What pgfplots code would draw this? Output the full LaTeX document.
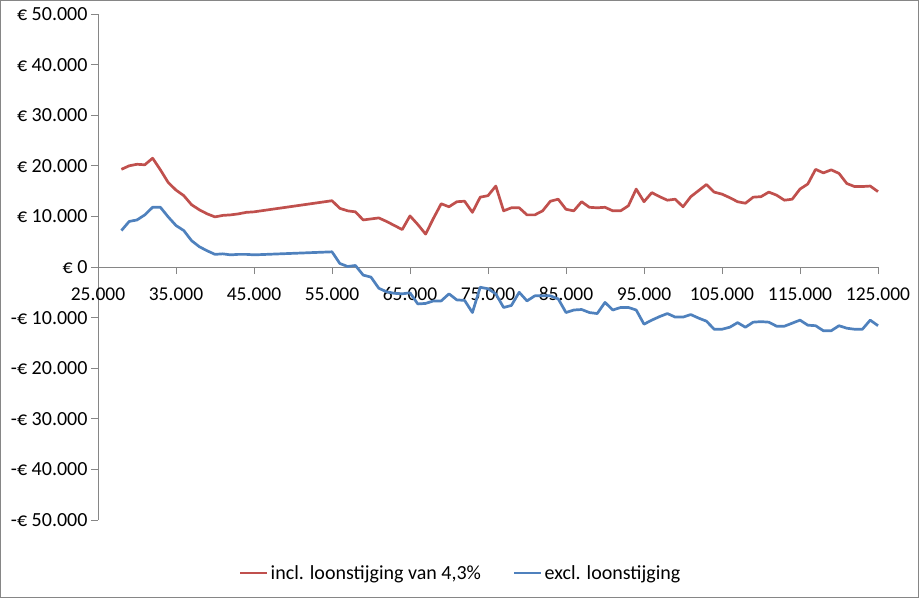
\documentclass[border=0pt]{standalone}
\usepackage{fontspec}
\setmainfont{Carlito}
\usepackage{pgfplots}
\pgfplotsset{compat=1.18}
\definecolor{exred}{HTML}{C0504D}
\definecolor{exblue}{HTML}{4F81BD}
\definecolor{axgray}{HTML}{868686}
\begin{document}
\begin{tikzpicture}[x=1pt,y=1pt]
\useasboundingbox (0,0) rectangle (919,598);
\draw[axgray, line width=1pt] (0.5,0.5) rectangle (918.5,597.5);
\begin{axis}[at={(98pt,78pt)}, anchor=south west, scale only axis,
  width=780pt, height=506pt,
  xmin=25, xmax=125, ymin=-50, ymax=50,
  axis x line=middle, axis y line=left,
  hide obscured x ticks=false,
  axis line style={-, axgray, line width=0.8pt},
  xtick={25,35,45,55,65,75,85,95,105,115,125},
  xticklabels={25.000,35.000,45.000,55.000,65.000,75.000,85.000,95.000,105.000,115.000,125.000},
  ytick={-50,-40,-30,-20,-10,0,10,20,30,40,50},
  yticklabels={-€ 50.000,-€ 40.000,-€ 30.000,-€ 20.000,-€ 10.000,€ 0,€ 10.000,€ 20.000,€ 30.000,€ 40.000,€ 50.000},
  tick align=outside, major tick length=7pt,
  tick style={axgray, line width=0.8pt},
  xticklabel style={font=\fontsize{19.5}{23}\selectfont, yshift=-10pt},
  yticklabel style={font=\fontsize{20}{24}\selectfont},
  legend style={at={(0.465,-0.105)}, anchor=center, draw=none, fill=none,
    legend columns=2, font=\fontsize{20}{24}\selectfont,
    /tikz/every even column/.append style={column sep=30pt}},
  legend image code/.code={\draw[#1] (0pt,0pt) -- (27pt,0pt);},
  clip=false,
]
\addplot[exred, line width=2.7pt, line join=round] coordinates {
(28,19.3)(29,20.0)(30,20.3)(31,20.2)(32,21.5)(33,19.2)(34,16.7)(35,15.2)(36,14.1)(37,12.3)
(38,11.3)(39,10.5)(40,9.9)(41,10.2)(42,10.3)(43,10.5)(44,10.8)(45,10.9)(50,12.0)(55,13.1)
(56,11.6)(57,11.1)(58,10.9)(59,9.3)(60,9.5)(61,9.7)(62,9.0)(63,8.2)(64,7.4)(65,10.1)
(66,8.4)(67,6.5)(68,9.6)(69,12.5)(70,11.9)(71,12.9)(72,13.0)(73,10.8)(74,13.8)(75,14.1)
(76,16.0)(77,11.1)(78,11.7)(79,11.7)(80,10.3)(81,10.3)(82,11.1)(83,13.0)(84,13.4)(85,11.4)
(86,11.1)(87,12.9)(88,11.8)(89,11.7)(90,11.8)(91,11.1)(92,11.1)(93,12.1)(94,15.4)(95,12.9)
(96,14.7)(97,13.9)(98,13.2)(99,13.4)(100,11.9)(101,13.9)(102,15.1)(103,16.3)(104,14.8)(105,14.4)
(106,13.7)(107,12.9)(108,12.6)(109,13.8)(110,13.9)(111,14.8)(112,14.2)(113,13.2)(114,13.4)(115,15.4)
(116,16.4)(117,19.3)(118,18.6)(119,19.2)(120,18.5)(121,16.5)(122,15.9)(123,15.9)(124,16.0)(125,14.9)
};
\addlegendentry{incl. loonstijging van 4,3\%}
\addplot[exblue, line width=2.7pt, line join=round] coordinates {
(28,7.2)(29,9.0)(30,9.3)(31,10.3)(32,11.8)(33,11.8)(34,9.9)(35,8.2)(36,7.2)(37,5.2)
(38,4.0)(39,3.2)(40,2.5)(41,2.6)(42,2.4)(43,2.5)(44,2.5)(45,2.4)(50,2.7)(55,3.0)
(56,0.7)(57,0.1)(58,0.3)(59,-1.6)(60,-2.0)(61,-4.2)(62,-4.9)(63,-5.2)(64,-5.3)(65,-5.1)
(66,-7.3)(67,-7.2)(68,-6.7)(69,-6.7)(70,-5.3)(71,-6.5)(72,-6.6)(73,-9.0)(74,-4.0)(75,-4.3)
(76,-5.3)(77,-8.0)(78,-7.6)(79,-5.0)(80,-6.7)(81,-5.7)(82,-5.7)(83,-5.7)(84,-6.3)(85,-9.0)
(86,-8.5)(87,-8.4)(88,-9.0)(89,-9.2)(90,-7.0)(91,-8.5)(92,-8.0)(93,-8.0)(94,-8.5)(95,-11.3)
(96,-10.5)(97,-9.8)(98,-9.2)(99,-9.9)(100,-9.9)(101,-9.4)(102,-10.1)(103,-10.7)(104,-12.3)(105,-12.3)
(106,-11.9)(107,-11.0)(108,-11.9)(109,-10.9)(110,-10.8)(111,-10.9)(112,-11.7)(113,-11.7)(114,-11.1)(115,-10.5)
(116,-11.5)(117,-11.6)(118,-12.6)(119,-12.6)(120,-11.6)(121,-12.1)(122,-12.3)(123,-12.3)(124,-10.5)(125,-11.6)
};
\addlegendentry{excl. loonstijging}
\end{axis}
\end{tikzpicture}
\end{document}
